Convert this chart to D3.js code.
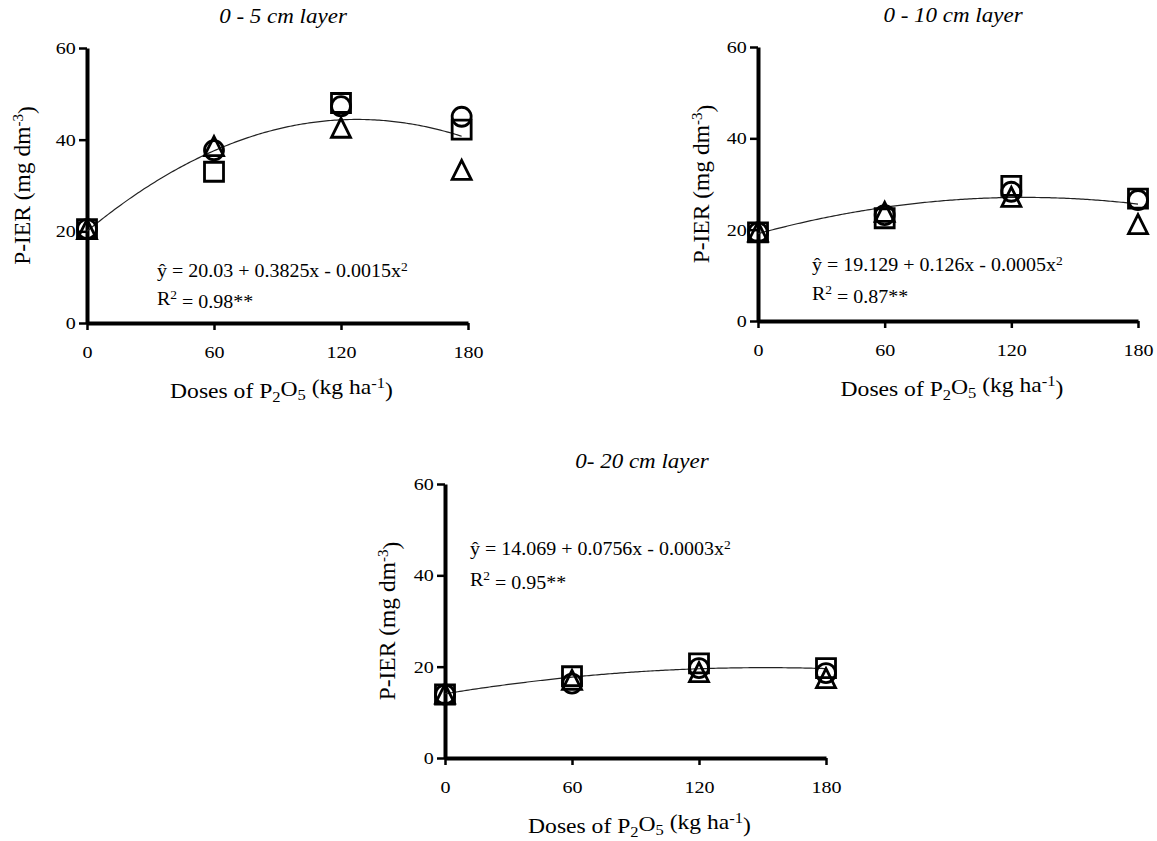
<!DOCTYPE html>
<html>
<head>
<meta charset="utf-8">
<script src="https://cdn.jsdelivr.net/npm/d3@7"></script>
<style>
  body { margin: 0; background: #fff; }
  text { font-family: "Liberation Serif", "Times New Roman", serif; fill: #000; }
</style>
</head>
<body>
<script>
// doses of P2O5 (kg/ha) - the 0-5 cm markers sit a little left of 180
var doses5 = [0, 60, 120, 177];
var doses10 = [0, 60, 120, 180];
var doses20 = [0, 60, 120, 180];

// P-IER values (square, circle, triangle)
var sq5 = [20.5, 33.0, 48.0, 42.2];
var ci5 = [20.5, 37.7, 47.3, 45.0];
var tr5 = [20.5, 38.6, 42.6, 33.4];

var sq10 = [19.4, 22.5, 29.6, 26.8];
var ci10 = [19.4, 23.2, 28.3, 26.5];
var tr10 = [19.6, 23.9, 27.2, 21.2];

var sq20 = [13.9, 17.9, 20.7, 19.7];
var ci20 = [13.9, 16.3, 19.7, 18.6];
var tr20 = [14.1, 17.1, 18.8, 17.5];

// regression coefficients a + bx + cx^2 (0-20 cm curve is drawn with the unrounded c)
var coef5 = [20.03, 0.3825, -0.0015];
var coef10 = [19.129, 0.126, -0.0005];
var coef20 = [14.069, 0.0756, -0.00025];

var titles = ["0 - 5 cm layer", "0 - 10 cm layer", "0- 20 cm layer"];
var eqNumbers = ["20.03 + 0.3825x - 0.0015x", "19.129 + 0.126x - 0.0005x", "14.069 + 0.0756x - 0.0003x"];
var r2Labels = ["0.98**", "0.87**", "0.95**"];
var xTicks = [0, 60, 120, 180];
var yTicks = [0, 20, 40, 60];

// layout of the three panels (pixels)
var layout = [
  {left: 87, top: 48, w: 381, h: 275, titleX: 283, titleY: 23, ylabOff: 65, eqX: 70, eqY: 229, r2Y: 257},
  {left: 758, top: 47, w: 380, h: 274, titleX: 953, titleY: 22, ylabOff: 57, eqX: 54, eqY: 224, r2Y: 253},
  {left: 445, top: 484, w: 381, h: 274, titleX: 642, titleY: 468, ylabOff: 58, eqX: 25, eqY: 71, r2Y: 102}
];

var panels = [
  {doses: doses5, series: [sq5, ci5, tr5], coef: coef5},
  {doses: doses10, series: [sq10, ci10, tr10], coef: coef10},
  {doses: doses20, series: [sq20, ci20, tr20], coef: coef20}
];

var svg = d3.select("body").append("svg")
    .attr("width", 1157)
    .attr("height", 841);

// marker shapes, no fill
var shapes = [
  "M-9.5,-9.5H9.5V9.5H-9.5Z",
  d3.symbol(d3.symbolCircle, Math.PI * 9.5 * 9.5)(),
  "M0,-9.5L9.5,9.5L-9.5,9.5Z"
];

// text in the original is a bit wider than Times, so stretch it sideways
function addText(parent, x, y, size, sx, anchor) {
  return parent.append("g")
      .attr("transform", "translate(" + x + "," + y + ") scale(" + sx + ",1)")
    .append("text")
      .attr("text-anchor", anchor)
      .style("font-size", size + "px");
}

panels.forEach(function(p, i) {
  var L = layout[i];
  var g = svg.append("g").attr("transform", "translate(" + L.left + "," + L.top + ")");

  var x = d3.scaleLinear().domain([0, 180]).range([0, L.w]);
  var y = d3.scaleLinear().domain([0, 60]).range([L.h, 0]);

  // title
  addText(svg, L.titleX, L.titleY, 20, 1.15, "middle")
      .style("font-style", "italic")
      .text(titles[i]);

  // axes
  var yAxis = g.append("g")
      .call(d3.axisLeft(y).tickValues(yTicks).tickSize(8).tickSizeOuter(0).tickPadding(1.5));
  var xAxis = g.append("g")
      .attr("transform", "translate(0," + L.h + ")")
      .call(d3.axisBottom(x).tickValues(xTicks).tickSize(7).tickSizeOuter(0).tickPadding(16));

  [xAxis, yAxis].forEach(function(a) {
    a.select(".domain").attr("stroke", "#000").attr("stroke-width", 4);
    a.selectAll(".tick line").attr("stroke", "#000").attr("stroke-width", 2.5);
    a.selectAll(".tick text")
        .attr("transform", "scale(1.18,1)")
        .style("font-size", "17px")
        .style("font-family", "Liberation Serif");
  });

  // y label
  var yl = g.append("text")
      .attr("transform", "translate(" + (-L.ylabOff) + "," + (L.h / 2) + ") rotate(-90)")
      .attr("text-anchor", "middle")
      .attr("dy", "0.35em")
      .style("font-size", "23.5px");
  yl.append("tspan").text("P-IER (mg dm");
  yl.append("tspan").attr("dy", "-0.45em").style("font-size", "15px").text("-3");
  yl.append("tspan").attr("dy", "0.45em").text(")");

  // x label
  var xl = addText(g, L.w / 2 + 4, L.h + 75, 20, 1.18, "middle");
  xl.append("tspan").text("Doses of P");
  xl.append("tspan").attr("dy", "0.3em").style("font-size", "14px").text("2");
  xl.append("tspan").attr("dy", "-0.3em").text("O");
  xl.append("tspan").attr("dy", "0.3em").style("font-size", "14px").text("5");
  xl.append("tspan").attr("dy", "-0.3em").text(" (kg ha");
  xl.append("tspan").attr("dy", "-0.45em").style("font-size", "14px").text("-1");
  xl.append("tspan").attr("dy", "0.45em").text(")");

  // fitted curve
  var c = p.coef;
  var xmax = d3.max(p.doses);
  var curve = d3.range(0, xmax + 0.5, 1).map(function(d) {
    return [d, c[0] + c[1] * d + c[2] * d * d];
  });
  g.append("path")
      .datum(curve)
      .attr("fill", "none")
      .attr("stroke", "#222")
      .attr("stroke-width", 1.2)
      .attr("d", d3.line().x(function(d) { return x(d[0]); }).y(function(d) { return y(d[1]); }));

  // markers
  p.series.forEach(function(s, k) {
    g.selectAll(".m" + k)
      .data(s)
      .enter().append("path")
        .attr("class", "m" + k)
        .attr("d", shapes[k])
        .attr("transform", function(d, j) { return "translate(" + x(p.doses[j]) + "," + y(d) + ")"; })
        .attr("fill", "none")
        .attr("stroke", "#000")
        .attr("stroke-width", 2.8);
  });

  // equation
  var eq = addText(g, L.eqX, L.eqY, 18.5, 1.08, "start");
  eq.append("tspan").text("\u0177 = " + eqNumbers[i]);
  eq.append("tspan").attr("dy", "-0.45em").style("font-size", "12.5px").text("2");

  var r2 = addText(g, L.eqX, L.r2Y, 18.5, 1.08, "start");
  r2.append("tspan").text("R");
  r2.append("tspan").attr("dy", "-0.45em").style("font-size", "12.5px").text("2");
  r2.append("tspan").attr("dy", "0.45em").text(" = " + r2Labels[i]);
});
</script>
</body>
</html>
